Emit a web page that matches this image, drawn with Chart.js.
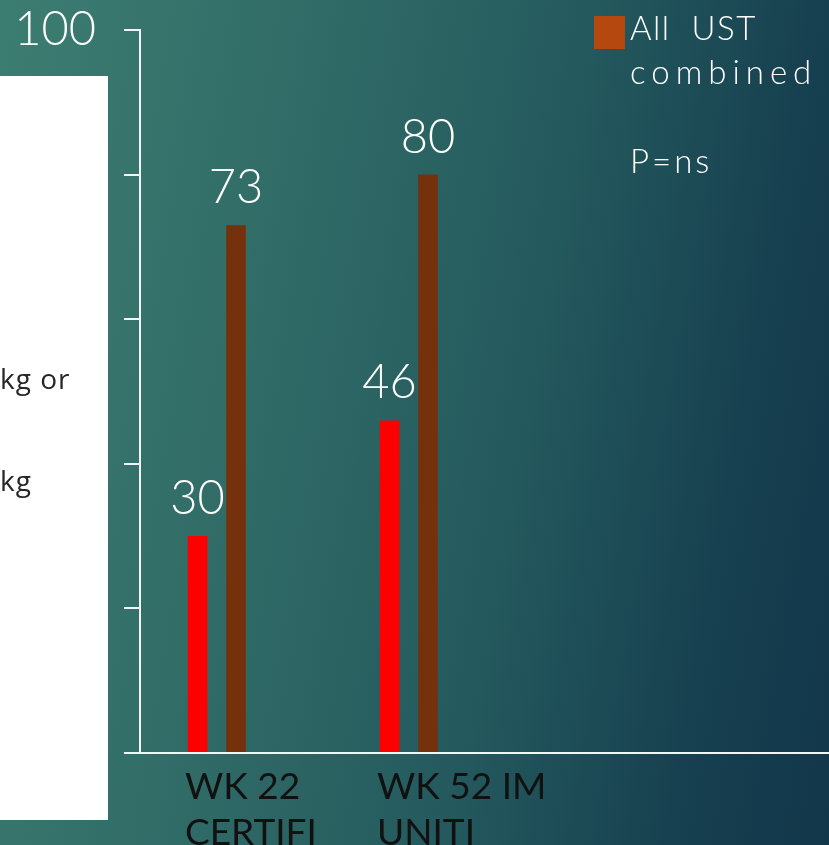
<!DOCTYPE html>
<html>
<head>
<meta charset="utf-8">
<script src="https://cdn.jsdelivr.net/npm/chart.js@4.4.1/dist/chart.umd.min.js"></script>
<style>
  html, body {
    margin: 0;
    padding: 0;
    width: 829px;
    height: 845px;
    overflow: hidden;
  }
  body {
    position: relative;
    background: linear-gradient(100deg, #3c7d71 0%, #326d68 30%, #245a5e 60%, #163f4f 85%, #12374a 100%);
  }
  #wrap {
    position: absolute;
    left: 0;
    top: 0;
    width: 908px;
    height: 845px;
  }
  #panel {
    position: absolute;
    left: 0;
    top: 76px;
    width: 108px;
    height: 744px;
    background: #ffffff;
    overflow: hidden;
  }
  #panel div {
    position: absolute;
    left: 0;
    font-family: "Open Sans", "Noto Sans", sans-serif;
    font-size: 28px;
    letter-spacing: 1px;
    color: #262626;
    white-space: nowrap;
    filter: blur(0.5px);
  }
</style>
</head>
<body>
<div id="wrap"><canvas id="chart" width="908" height="845"></canvas></div>
<div id="panel">
  <div style="top:283px;">kg or</div>
  <div style="top:385px;">kg</div>
</div>
<script>
// Categories (two-line axis labels) and series values
const categories = [["WK 22", "CERTIFI"], ["WK 52 IM", "UNITI"], "", ""];
const seriesA = [30, 46, null, null];
const seriesB = [73, 80, null, null];
const seriesCombined = [null, null, null, null];
const seriesNames = ["Series A", "Series B", "All  UST combined"];
const legendLines = ["All  UST", "combined"];
const noteText = "P=ns";
const yTicks = { min: 0, max: 100, step: 20 };

const COLORS = ["#ff0000", "#74310c", "#b5480f"];

// Value labels above each bar
const valueLabels = {
  id: "valueLabels",
  afterDatasetsDraw(chart) {
    const ctx = chart.ctx;
    ctx.save();
    ctx.font = "300 47px Lato";
    ctx.fillStyle = "#ffffff";
    ctx.textAlign = "center";
    ctx.textBaseline = "alphabetic";
    chart.data.datasets.forEach((ds, i) => {
      const meta = chart.getDatasetMeta(i);
      meta.data.forEach((bar, j) => {
        const v = ds.data[j];
        if (v === null || v === undefined) return;
        ctx.fillText(String(v), bar.x, bar.y - 22);
      });
    });
    ctx.restore();
  }
};

// Legend entry for the combined series plus the significance note
const sideLegend = {
  id: "sideLegend",
  afterDraw(chart) {
    const ctx = chart.ctx;
    ctx.save();
    ctx.fillStyle = chart.data.datasets[2].backgroundColor;
    ctx.fillRect(594, 16, 31, 33);
    ctx.fillStyle = "#ffffff";
    ctx.font = "300 33px Lato";
    ctx.textAlign = "left";
    ctx.textBaseline = "alphabetic";
    const spacing = ["1.5px", "6px"];
    legendLines.forEach((line, k) => {
      ctx.letterSpacing = spacing[k] || "3px";
      ctx.fillText(line, 630, 40 + k * 44);
    });
    ctx.letterSpacing = "3px";
    ctx.fillText(noteText, 630, 173);
    ctx.restore();
  }
};

new Chart(document.getElementById("chart"), {
  type: "bar",
  data: {
    labels: categories,
    datasets: [
      { label: seriesNames[0], data: seriesA, backgroundColor: COLORS[0] },
      { label: seriesNames[1], data: seriesB, backgroundColor: COLORS[1] },
      { label: seriesNames[2], data: seriesCombined, backgroundColor: COLORS[2] }
    ]
  },
  options: {
    responsive: false,
    animation: false,
    layout: { padding: { left: 0, top: 30, right: 0, bottom: 0 } },
    datasets: {
      bar: { categoryPercentage: 0.6, barPercentage: 0.51 }
    },
    plugins: {
      legend: { display: false },
      tooltip: { enabled: false }
    },
    scales: {
      x: {
        grid: { display: false },
        border: { display: true, color: "#f2f5f5", width: 2 },
        ticks: {
          color: "#111111",
          font: { family: "Lato", size: 37, weight: "400", lineHeight: 1.24 },
          padding: 3,
          maxRotation: 0,
          autoSkip: false,
          align: "start",
          labelOffset: -51
        },
        afterFit(scale) {
          scale.height = 92;
          scale.paddingLeft = 0;
          scale.paddingRight = 0;
        }
      },
      y: {
        min: yTicks.min,
        max: yTicks.max,
        grid: {
          drawOnChartArea: false,
          drawTicks: true,
          tickLength: 16,
          color: "#f2f5f5",
          lineWidth: 2
        },
        border: { display: true, color: "#f2f5f5", width: 2 },
        ticks: {
          stepSize: yTicks.step,
          color: "#ffffff",
          font: { family: "Lato", size: 47, weight: "300" },
          padding: 28
        },
        afterFit(scale) {
          scale.width = 140;
          scale.paddingTop = 0;
          scale.paddingBottom = 0;
        }
      }
    }
  },
  plugins: [valueLabels, sideLegend]
});
</script>
</body>
</html>
